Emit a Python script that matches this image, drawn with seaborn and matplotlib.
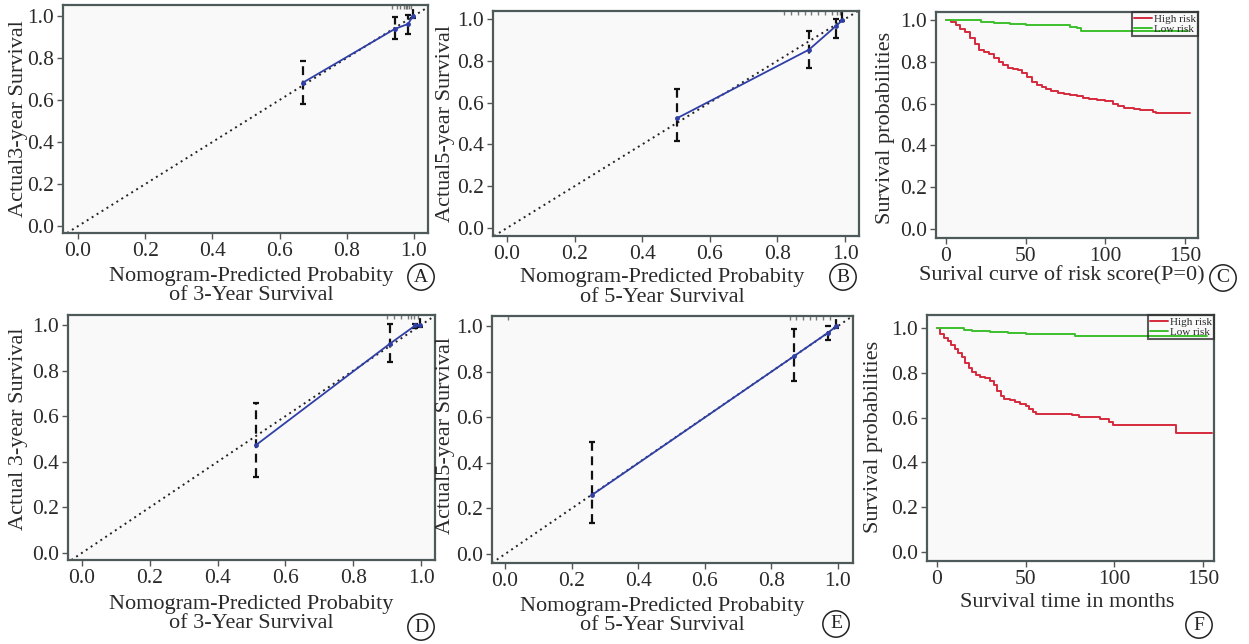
import numpy as np
import pandas as pd
import matplotlib
matplotlib.use("Agg")
import matplotlib.pyplot as plt
import seaborn as sns

# ---------------- data ----------------
# Calibration curves: predicted probability, observed survival, 95% CI
cal_a_pred = [0.670, 0.943, 0.983, 0.997]
cal_a_obs = [0.683, 0.938, 0.962, 1.000]
cal_a_lo = [0.579, 0.889, 0.913, 0.990]
cal_a_hi = [0.787, 0.994, 1.005, 1.090]

cal_b_pred = [0.504, 0.893, 0.972, 0.992]
cal_b_obs = [0.526, 0.853, 0.965, 0.994]
cal_b_lo = [0.415, 0.766, 0.909, 0.990]
cal_b_hi = [0.665, 0.944, 1.000, 1.070]

cal_d_pred = [0.512, 0.907, 0.983, 0.998]
cal_d_obs = [0.472, 0.917, 0.998, 1.000]
cal_d_lo = [0.333, 0.839, 0.985, 0.990]
cal_d_hi = [0.657, 1.004, 1.005, 1.060]

cal_e_pred = [0.262, 0.868, 0.970, 0.994]
cal_e_obs = [0.260, 0.868, 0.971, 0.998]
cal_e_lo = [0.136, 0.759, 0.939, 0.990]
cal_e_hi = [0.493, 0.987, 1.000, 1.050]

# distribution of predicted probabilities (rug along the top)
rug_a = [0.935, 0.95, 0.96, 0.97, 0.975, 0.98, 0.985, 0.99]
rug_b = [0.82, 0.84, 0.86, 0.88, 0.90, 0.92, 0.94, 0.96, 0.975, 0.985]
rug_d = [0.90, 0.92, 0.94, 0.96, 0.97, 0.98, 0.99]
rug_e = [0.01, 0.855, 0.875, 0.895, 0.915, 0.935, 0.955, 0.975]

# Kaplan-Meier curves, risk score (C)
km_c_high_t = [0, 3, 6, 9, 12, 15, 18, 21, 24, 27, 30, 33, 36, 39, 42, 45, 48,
               51, 54, 57, 60, 63, 66, 70, 74, 78, 82, 86, 90, 95, 100, 105,
               108, 112, 118, 122, 130, 132, 153]
km_c_high_s = [1.0, 0.99, 0.975, 0.955, 0.94, 0.915, 0.885, 0.857, 0.845,
               0.835, 0.82, 0.80, 0.785, 0.772, 0.765, 0.76, 0.748, 0.728,
               0.705, 0.69, 0.678, 0.668, 0.66, 0.652, 0.648, 0.64, 0.634,
               0.628, 0.622, 0.615, 0.612, 0.60, 0.588, 0.58, 0.575, 0.57,
               0.56, 0.554, 0.554]
km_c_low_t = [0, 14, 22, 30, 40, 50, 75, 78, 82, 85, 152]
km_c_low_s = [1.0, 0.998, 0.992, 0.985, 0.98, 0.978, 0.975, 0.968, 0.96,
              0.945, 0.945]

# Kaplan-Meier curves, survival time (F)
km_f_high_t = [0, 2, 4, 6, 8, 10, 12, 14, 16, 18, 20, 22, 24, 27, 30, 32, 34,
               36, 38, 41, 44, 47, 50, 52, 54, 56, 76, 80, 92, 97, 99, 135, 155]
km_f_high_s = [1.0, 0.975, 0.955, 0.94, 0.925, 0.905, 0.89, 0.87, 0.845,
               0.82, 0.805, 0.79, 0.782, 0.775, 0.762, 0.745, 0.72, 0.695,
               0.683, 0.677, 0.668, 0.66, 0.652, 0.64, 0.625, 0.615, 0.61,
               0.603, 0.596, 0.58, 0.568, 0.531, 0.531]
km_f_low_t = [0, 10, 15, 20, 30, 40, 50, 78, 152]
km_f_low_s = [1.0, 0.998, 0.99, 0.985, 0.98, 0.976, 0.972, 0.966, 0.966]

risk_labels = ["High risk", "Low risk"]
prob_ticks = [0.0, 0.2, 0.4, 0.6, 0.8, 1.0]
month_ticks = [0, 50, 100, 150]

# ---------------- style ----------------
sns.set_theme(style="ticks")
plt.rcParams["font.family"] = ["Liberation Serif", "DejaVu Serif"]
plt.rcParams["text.color"] = "#2a2a2a"
plt.rcParams["axes.labelcolor"] = "#2a2a2a"
plt.rcParams["xtick.color"] = "#555555"
plt.rcParams["ytick.color"] = "#555555"
plt.rcParams["xtick.labelcolor"] = "#2a2a2a"
plt.rcParams["ytick.labelcolor"] = "#2a2a2a"

W, H = 1249, 644
fig = plt.figure(figsize=(W / 100, H / 100), dpi=100)
fig.patch.set_facecolor("white")

SPINE = "#4e5a5a"
BLUE = "#2f3fa6"
RED = "#d42a3c"
GREEN = "#3cbf2c"
TICK_FS = 15.5
LAB_FS = 16


def px_axes(x0, y0, x1, y1):
    ax = fig.add_axes([x0 / W, 1 - y1 / H, (x1 - x0) / W, (y1 - y0) / H])
    ax.set_facecolor("#f9f9f9")
    for s in ax.spines.values():
        s.set_color(SPINE)
        s.set_linewidth(1.6)
    ax.tick_params(labelsize=TICK_FS, length=4, width=1, pad=2.5)
    return ax


def place_labels(ax, x_right, y_mid, x_frac):
    ax.yaxis.set_label_coords(x_right / W, 1 - y_mid / H,
                              transform=fig.transFigure)
    ax.xaxis.label.set_x(x_frac)


def calib(ax, pred, obs, lo, hi, rug, xlim, ylim, ylabel, xlabel, xpad):
    ax.set_xlim(*xlim)
    ax.set_ylim(*ylim)
    ax.axline((0, 0), (1, 1), color="#222222", ls=(0, (1, 2)), lw=1.4,
              zorder=2)
    pred = np.asarray(pred)
    obs = np.asarray(obs)
    eb = ax.errorbar(pred, obs,
                     yerr=[obs - np.asarray(lo), np.asarray(hi) - obs],
                     fmt="none", ecolor="#111111", elinewidth=1.6,
                     capsize=2.5, capthick=1.6, zorder=3)
    for lc in eb[2]:
        lc.set_linestyle((0, (4, 2.5)))
    df = pd.DataFrame({"pred": pred, "obs": obs})
    sns.lineplot(data=df, x="pred", y="obs", ax=ax, color=BLUE, lw=1.3,
                 marker="o", markersize=3.5, markeredgewidth=0,
                 estimator=None, sort=False, zorder=4)
    top = ylim[1]
    span = ylim[1] - ylim[0]
    ax.vlines(rug, top - 0.018 * span, top, color="#777777", lw=1.0,
              zorder=2)
    ax.set_xticks(prob_ticks)
    ax.set_yticks(prob_ticks)
    ax.set_xticklabels([f"{v:.1f}" for v in prob_ticks])
    ax.set_yticklabels([f"{v:.1f}" for v in prob_ticks])
    ax.set_xlabel(xlabel, fontsize=LAB_FS, linespacing=1.03, labelpad=xpad)
    ax.set_ylabel(ylabel, fontsize=LAB_FS)


def km(ax, t_hi, s_hi, t_lo, s_lo, xlim, ylim, xlabel, xpad):
    ax.set_xlim(*xlim)
    ax.set_ylim(*ylim)
    df = pd.concat([
        pd.DataFrame({"t": t_hi, "s": s_hi, "group": risk_labels[0]}),
        pd.DataFrame({"t": t_lo, "s": s_lo, "group": risk_labels[1]}),
    ])
    sns.lineplot(data=df, x="t", y="s", hue="group",
                 palette={risk_labels[0]: RED, risk_labels[1]: GREEN},
                 drawstyle="steps-post", estimator=None, sort=False,
                 lw=1.4, ax=ax)
    leg = ax.legend(loc="upper right", fontsize=8, frameon=True,
                    fancybox=False, borderaxespad=0, borderpad=0.22,
                    labelspacing=0.0, handlelength=1.6, handletextpad=0.15,
                    title=None)
    leg.get_frame().set_edgecolor("#333333")
    leg.get_frame().set_linewidth(1.5)
    leg.get_frame().set_facecolor("none")
    ax.set_xticks(month_ticks)
    ax.set_yticks(prob_ticks)
    ax.set_yticklabels([f"{v:.1f}" for v in prob_ticks])
    ax.set_xlabel(xlabel, fontsize=LAB_FS, labelpad=xpad)
    ax.set_ylabel("Survival probabilities", fontsize=LAB_FS)


def tag(x, y, letter):
    fig.text(x / W, 1 - y / H, letter, fontsize=14, ha="center",
             va="center", color="#222222",
             bbox=dict(boxstyle="circle,pad=0.24", fc="white", ec="#222222",
                       lw=1.1))


xl3 = "Nomogram-Predicted Probabity\nof 3-Year Survival"
xl5 = "Nomogram-Predicted Probabity\nof 5-Year Survival"

ax_a = px_axes(63, 5, 428, 233)
calib(ax_a, cal_a_pred, cal_a_obs, cal_a_lo, cal_a_hi, rug_a,
      (-0.045, 1.042), (-0.033, 1.052), "Actual3-year Survival", xl3, 4)
place_labels(ax_a, 28, 119, 0.515)

ax_b = px_axes(493, 11, 859, 236)
calib(ax_b, cal_b_pred, cal_b_obs, cal_b_lo, cal_b_hi, rug_b,
      (-0.041, 1.041), (-0.038, 1.038), "Actual5-year Survival", xl5, 3)
place_labels(ax_b, 455, 123, 0.462)

ax_c = px_axes(936, 12, 1198, 238)
km(ax_c, km_c_high_t, km_c_high_s, km_c_low_t, km_c_low_s,
   (-6.3, 158.2), (-0.043, 1.038), "Surival curve of risk score(P=0)", 0)
place_labels(ax_c, 895, 128, 0.481)

ax_d = px_axes(68, 315, 435, 560)
calib(ax_d, cal_d_pred, cal_d_obs, cal_d_lo, cal_d_hi, rug_d,
      (-0.041, 1.041), (-0.031, 1.044), "Actual 3-year Survival", xl3, 5)
place_labels(ax_d, 28, 429, 0.5)

ax_e = px_axes(492, 316, 853, 563)
calib(ax_e, cal_e_pred, cal_e_obs, cal_e_lo, cal_e_hi, rug_e,
      (-0.039, 1.045), (-0.039, 1.044), "Actual5-year Survival", xl5, 4)
place_labels(ax_e, 455, 436, 0.471)

ax_f = px_axes(927, 315, 1214, 561)
km(ax_f, km_f_high_t, km_f_high_s, km_f_low_t, km_f_low_s,
   (-5.6, 156.2), (-0.040, 1.058), "Survival time in months", 3)
place_labels(ax_f, 883, 437, 0.488)

tag(421, 277, "A")
tag(843, 277, "B")
tag(1223, 278, "C")
tag(421, 627, "D")
tag(836, 624, "E")
tag(1199, 625, "F")

fig.savefig("out.png", dpi=100, facecolor="white")
